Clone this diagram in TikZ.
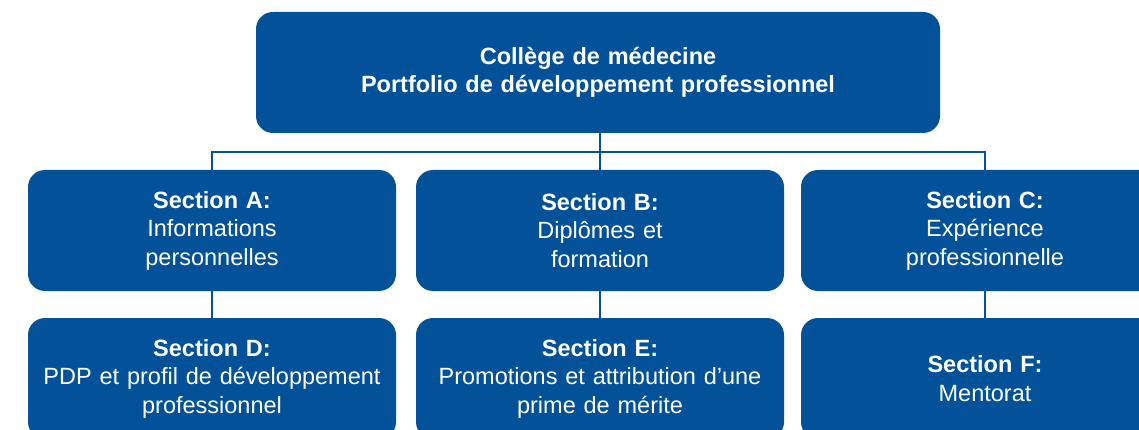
\documentclass[tikz,border=0pt]{standalone}
\usepackage{fontspec}
\setmainfont{Liberation Sans}
\usepackage{xcolor}
\usetikzlibrary{positioning, calc}

\definecolor{cmblue}{RGB}{3,81,153}

\begin{document}
\begin{tikzpicture}[
    x=1pt, y=-1pt,
    section/.style={rectangle, rounded corners=17pt, fill=cmblue, text=white,
        minimum width=#1, minimum height=121pt, text width=350pt, align=center,
        inner sep=0pt, font=\fontsize{23.5}{28.5}\selectfont},
    section/.default=368pt,
    link/.style={draw=cmblue, line width=2pt}
]

\clip (0,0) rectangle (1139,430);

% Title
\node[section=684pt, text width=660pt] (title) at (598, 72.5) {
    \textbf{Collège de médecine}\\
    \textbf{Portfolio de développement professionnel}
};

% Section A
\node[section] (secA) at (212, 230.5) {
    \textbf{Section A:}\\
    Informations\\
    personnelles
};

% Section B
\node[section] (secB) at (600, 230.5) {
    \textbf{Section B:}\\
    Diplômes et\\
    formation
};

% Section C
\node[section] (secC) at (985, 230.5) {
    \textbf{Section C:}\\
    Expérience\\
    professionnelle
};

% Section D
\node[section] (secD) at (212, 378.5) {
    \textbf{Section D:}\\
    PDP et profil de développement\\
    professionnel
};

% Section E
\node[section] (secE) at (600, 378.5) {
    \textbf{Section E:}\\
    Promotions et attribution d’une\\
    prime de mérite
};

% Section F
\node[section] (secF) at (985, 378.5) {
    \textbf{Section F:}\\
    Mentorat
};

% Links
\coordinate (bus) at (600, 152);
\draw[link] (secB.north |- title.south) -- (secB.north);
\draw[link] (secA.north) -- (secA.north |- bus) -- (secC.north |- bus) -- (secC.north);
\draw[link] (secA) -- (secD);
\draw[link] (secB) -- (secE);
\draw[link] (secC) -- (secF);

\end{tikzpicture}
\end{document}
